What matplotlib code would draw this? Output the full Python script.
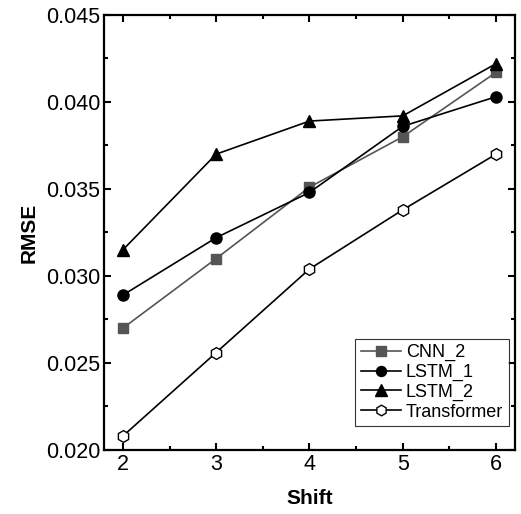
import numpy as np
import matplotlib.pyplot as plt
from matplotlib.ticker import MultipleLocator

plt.rcParams['font.family'] = ['Liberation Sans', 'DejaVu Sans']

shift = [2, 3, 4, 5, 6]
cnn_2 = [0.0270, 0.0310, 0.0351, 0.0380, 0.0417]
lstm_1 = [0.0289, 0.0322, 0.0348, 0.0386, 0.0403]
lstm_2 = [0.0315, 0.0370, 0.0389, 0.0392, 0.0422]
transformer = [0.0208, 0.0256, 0.0304, 0.0338, 0.0370]

fig = plt.figure(figsize=(5.21, 5.14), dpi=100)
ax = fig.add_axes([0.2, 0.1245, 0.788, 0.8465])

ax.plot(shift, cnn_2, color='#555555', lw=1.2, marker='s', ms=7.5, label='CNN_2')
ax.plot(shift, lstm_1, color='black', lw=1.2, marker='o', ms=8, label='LSTM_1')
ax.plot(shift, lstm_2, color='black', lw=1.2, marker='^', ms=9, label='LSTM_2')
ax.plot(shift, transformer, color='black', lw=1.2, marker='h', ms=8.5,
        mfc='white', mec='black', mew=1.0, label='Transformer')

ax.set_xlim(1.8, 6.2)
ax.set_ylim(0.020, 0.045)
ax.xaxis.set_major_locator(MultipleLocator(1))
ax.xaxis.set_minor_locator(MultipleLocator(0.5))
ax.yaxis.set_major_locator(MultipleLocator(0.005))
ax.yaxis.set_minor_locator(MultipleLocator(0.0025))
ax.yaxis.set_major_formatter(plt.FormatStrFormatter('%.3f'))
ax.tick_params(which='both', direction='in', top=True, right=True, labelsize=15.5, width=1.5, pad=3)
ax.tick_params(which='major', length=5)
ax.tick_params(which='minor', length=3)
for sp in ax.spines.values():
    sp.set_linewidth(1.6)

ax.set_xlabel('Shift', fontsize=15, fontweight='bold', labelpad=10)
ax.set_ylabel('RMSE', fontsize=15, fontweight='bold', labelpad=5)

leg = ax.legend(loc='lower right', fontsize=13, frameon=True, fancybox=False,
                edgecolor='black', handlelength=2.2, handletextpad=0.3,
                borderpad=0.3, labelspacing=0.15, markerscale=0.9,
                borderaxespad=0, bbox_to_anchor=(0.985, 0.055))
leg.get_frame().set_linewidth(0.8)

fig.savefig('out.png', dpi=100)
